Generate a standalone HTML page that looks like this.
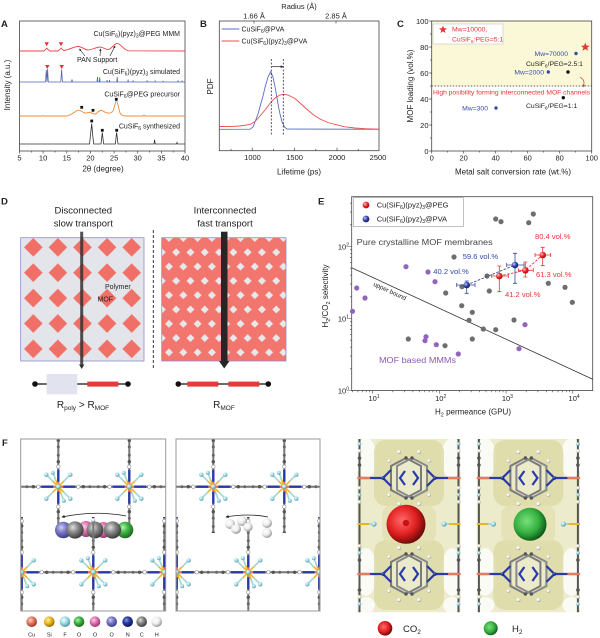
<!DOCTYPE html>
<html><head><meta charset="utf-8">
<style>
html,body{margin:0;padding:0;background:#fff;width:600px;height:638px;overflow:hidden}
svg{display:block}
text{font-family:"Liberation Sans",Arial,sans-serif;fill:#222}
</style></head><body>
<svg xmlns="http://www.w3.org/2000/svg" width="600" height="638" viewBox="0 0 600 638">
<defs>
<marker id="ah" viewBox="0 0 6 6" refX="5" refY="3" markerWidth="4" markerHeight="4" orient="auto"><path d="M0,0 L6,3 L0,6 z" fill="#222"/></marker>
<marker id="ahr" viewBox="0 0 6 6" refX="5" refY="3" markerWidth="4" markerHeight="4" orient="auto"><path d="M0,0 L6,3 L0,6 z" fill="#e53535"/></marker>
<radialGradient id="gCu" cx="0.38" cy="0.35" r="0.65"><stop offset="0" stop-color="#ffd0c0"/><stop offset="0.45" stop-color="#e8806a"/><stop offset="1" stop-color="#9a3a28"/></radialGradient>
<radialGradient id="gSi" cx="0.38" cy="0.35" r="0.65"><stop offset="0" stop-color="#fff0a0"/><stop offset="0.45" stop-color="#f0be28"/><stop offset="1" stop-color="#9a7010"/></radialGradient>
<radialGradient id="gF" cx="0.38" cy="0.35" r="0.65"><stop offset="0" stop-color="#f4ffff"/><stop offset="0.45" stop-color="#a6e0ea"/><stop offset="1" stop-color="#5a9aa8"/></radialGradient>
<radialGradient id="gOg" cx="0.38" cy="0.35" r="0.65"><stop offset="0" stop-color="#b0f5b0"/><stop offset="0.45" stop-color="#44b848"/><stop offset="1" stop-color="#1c6a20"/></radialGradient>
<radialGradient id="gOp" cx="0.38" cy="0.35" r="0.65"><stop offset="0" stop-color="#ffd0ea"/><stop offset="0.45" stop-color="#e476b6"/><stop offset="1" stop-color="#963c70"/></radialGradient>
<radialGradient id="gOl" cx="0.38" cy="0.35" r="0.65"><stop offset="0" stop-color="#d0d0f6"/><stop offset="0.45" stop-color="#7c7cc8"/><stop offset="1" stop-color="#3c3c88"/></radialGradient>
<radialGradient id="gN" cx="0.38" cy="0.35" r="0.65"><stop offset="0" stop-color="#8a9ae6"/><stop offset="0.45" stop-color="#2a3aa6"/><stop offset="1" stop-color="#101858"/></radialGradient>
<radialGradient id="gC" cx="0.38" cy="0.35" r="0.65"><stop offset="0" stop-color="#e0e0e0"/><stop offset="0.45" stop-color="#8a8a8a"/><stop offset="1" stop-color="#3e3e3e"/></radialGradient>
<radialGradient id="gH" cx="0.38" cy="0.35" r="0.65"><stop offset="0" stop-color="#ffffff"/><stop offset="0.55" stop-color="#eeeeee"/><stop offset="1" stop-color="#9a9a9a"/></radialGradient>
<radialGradient id="gRed" cx="0.4" cy="0.4" r="0.62"><stop offset="0" stop-color="#ff6a6a"/><stop offset="0.6" stop-color="#e01e1e"/><stop offset="1" stop-color="#6a0a0a"/></radialGradient>
<radialGradient id="gGreen" cx="0.4" cy="0.4" r="0.62"><stop offset="0" stop-color="#7ae07a"/><stop offset="0.6" stop-color="#34b040"/><stop offset="1" stop-color="#0e5a18"/></radialGradient>
<radialGradient id="gRE" cx="0.35" cy="0.35" r="0.7"><stop offset="0" stop-color="#ffc0c0"/><stop offset="0.5" stop-color="#ee2a2a"/><stop offset="1" stop-color="#a00"/></radialGradient>
<radialGradient id="gBE" cx="0.35" cy="0.35" r="0.7"><stop offset="0" stop-color="#c0c8ff"/><stop offset="0.5" stop-color="#3448a8"/><stop offset="1" stop-color="#101c60"/></radialGradient>

<pattern id="dl" patternUnits="userSpaceOnUse" x="21" y="234.6" width="24.6" height="25.4">
<polygon points="12.3,3.4 21.6,12.7 12.3,22 3,12.7" fill="#f07068"/>
</pattern>
<pattern id="dr" patternUnits="userSpaceOnUse" x="169" y="238" width="14.3" height="28.6">
<rect width="14.3" height="28.6" fill="#f2766e"/>
<g fill="#e6e8ec">
<polygon points="0,-4 4,0 0,4 -4,0"/>
<polygon points="14.3,-4 18.3,0 14.3,4 10.3,0"/>
<polygon points="0,24.6 4,28.6 0,32.6 -4,28.6"/>
<polygon points="14.3,24.6 18.3,28.6 14.3,32.6 10.3,28.6"/>
<polygon points="7.15,10.3 11.15,14.3 7.15,18.3 3.15,14.3"/>
</g>
</pattern>

<clipPath id="cTop"><rect x="-60" y="430" width="320" height="103"/></clipPath>
<clipPath id="cBot"><rect x="-60" y="517" width="320" height="110"/></clipPath>
<clipPath id="cL"><rect x="20.7" y="439" width="145" height="172"/></clipPath>
<clipPath id="cM"><rect x="176" y="439" width="144" height="172"/></clipPath>
<clipPath id="cI1"><rect x="357.3" y="439" width="103.4" height="173.3"/></clipPath>
<clipPath id="cI2"><rect x="476.7" y="439" width="103.4" height="173.3"/></clipPath>

<g id="hh">
<line x2="36" stroke="#787878" stroke-width="2"/>
<line x2="5" stroke="#e8785e" stroke-width="2.4"/>
<line x1="5" x2="17" stroke="#2a3aa8" stroke-width="2.4"/>
<circle cx="20" r="1.8" fill="#fff" stroke="#777" stroke-width="0.5"/>
<circle cx="25" r="1.7" fill="#555"/>
<circle cx="31.5" r="1.5" fill="#666"/>
</g>
<g id="fc">
<use href="#hh"/>
<use href="#hh" transform="translate(71.3,0) scale(-1,1)"/>
</g>
<g id="cu">
<g stroke-width="1.5" stroke-linecap="round">
<line x2="-11" y2="-11" stroke="#e8b428"/><line x2="11" y2="-11" stroke="#e8b428"/>
<line x2="-11" y2="11" stroke="#e8b428"/><line x2="11" y2="11" stroke="#e8b428"/>
<line x2="-5" y2="-13" stroke="#e8b428"/><line x2="5" y2="13" stroke="#e8b428"/>
<line x1="-6" y1="-6" x2="-11" y2="-11" stroke="#9edbe6"/><line x1="6" y1="-6" x2="11" y2="-11" stroke="#9edbe6"/>
<line x1="-6" y1="6" x2="-11" y2="11" stroke="#9edbe6"/><line x1="6" y1="6" x2="11" y2="11" stroke="#9edbe6"/>
<line x1="-3" y1="-7" x2="-5" y2="-13" stroke="#9edbe6"/><line x1="3" y1="7" x2="5" y2="13" stroke="#9edbe6"/>
</g>
<circle cx="-12" cy="-12" r="2.2" fill="url(#gF)"/><circle cx="12" cy="-12" r="2.2" fill="url(#gF)"/>
<circle cx="-12" cy="12" r="2.2" fill="url(#gF)"/><circle cx="12" cy="12" r="2.2" fill="url(#gF)"/>
<circle cx="-5.5" cy="-14" r="2" fill="url(#gF)"/><circle cx="5.5" cy="14" r="2" fill="url(#gF)"/>
<circle r="2.4" fill="url(#gF)"/>
</g>

<g id="lat">
<g clip-path="url(#cTop)">
<use href="#fc" transform="translate(58.3,415.4) rotate(90)"/>
<use href="#fc" transform="translate(58.3,486.7) rotate(90)"/>
<use href="#fc" transform="translate(129.3,415.4) rotate(90)"/>
<use href="#fc" transform="translate(129.3,486.7) rotate(90)"/>
</g>
<g clip-path="url(#cBot)">
<use href="#fc" transform="translate(21.7,501) rotate(90)"/>
<use href="#fc" transform="translate(21.7,572.3) rotate(90)"/>
<use href="#fc" transform="translate(93.3,501) rotate(90)"/>
<use href="#fc" transform="translate(93.3,572.3) rotate(90)"/>
<use href="#fc" transform="translate(164.3,501) rotate(90)"/>
<use href="#fc" transform="translate(164.3,572.3) rotate(90)"/>
</g>
<use href="#fc" transform="translate(-13,486.7)"/>
<use href="#fc" transform="translate(58.3,486.7)"/>
<use href="#fc" transform="translate(129.3,486.7)"/>
<use href="#fc" transform="translate(-49.6,572.3)"/>
<use href="#fc" transform="translate(21.7,572.3)"/>
<use href="#fc" transform="translate(93.3,572.3)"/>
<use href="#fc" transform="translate(164.3,572.3)"/>
<use href="#cu" transform="translate(58.3,486.7)"/>
<use href="#cu" transform="translate(129.3,486.7)"/>
<use href="#cu" transform="translate(21.7,572.3)"/>
<use href="#cu" transform="translate(93.3,572.3)"/>
<use href="#cu" transform="translate(164.3,572.3)"/>
</g>

<g id="pyz">
<polygon points="-3,-20 12,-12 12,12 -3,20 -18,12 -18,-12" fill="none" stroke="#7a7a7a" stroke-width="2"/>
<polygon points="3,-20 18,-12 18,12 3,20 -12,12 -12,-12" fill="none" stroke="#8a8a8a" stroke-width="2"/>
<circle cx="-3" cy="-20" r="1.7" fill="#555"/><circle cx="3" cy="-20" r="1.7" fill="#555"/>
<circle cx="-3" cy="20" r="1.7" fill="#555"/><circle cx="3" cy="20" r="1.7" fill="#555"/>
<circle cx="-10" cy="-26" r="2" fill="url(#gH)"/><circle cx="10" cy="-26" r="2" fill="url(#gH)"/>
<circle cx="-10" cy="26" r="2" fill="url(#gH)"/><circle cx="10" cy="26" r="2" fill="url(#gH)"/>
<circle cx="-20" cy="-17" r="1.8" fill="url(#gH)"/><circle cx="20" cy="-17" r="1.8" fill="url(#gH)"/>
<circle cx="-20" cy="17" r="1.8" fill="url(#gH)"/><circle cx="20" cy="17" r="1.8" fill="url(#gH)"/>
<polyline points="-4,-7 -9,0 -4,7" fill="none" stroke="#2a3aa8" stroke-width="2.2"/>
<polyline points="4,-7 9,0 4,7" fill="none" stroke="#2a3aa8" stroke-width="2.2"/>
<polyline points="-18,-8 -26,0 -18,8" fill="none" stroke="#2a3aa8" stroke-width="2.2"/>
<polyline points="18,-8 26,0 18,8" fill="none" stroke="#2a3aa8" stroke-width="2.2"/>
<line x1="-49" x2="-26" stroke="#2a3aa8" stroke-width="2.2"/>
<line x1="26" x2="49" stroke="#2a3aa8" stroke-width="2.2"/>
<line x1="-52" x2="-39" stroke="#e8785e" stroke-width="2.2"/>
<line x1="39" x2="52" stroke="#e8785e" stroke-width="2.2"/>
<circle cx="-26" r="1.8" fill="url(#gN)"/><circle cx="26" r="1.8" fill="url(#gN)"/>
</g>
<g id="edge">
<line x1="0" y1="439" x2="0" y2="613" stroke="#555" stroke-width="2"/>
<circle cy="444" r="1.8" fill="url(#gF)"/><circle cy="451" r="1.8" fill="url(#gH)"/><circle cy="458" r="1.8" fill="#555"/>
<circle cy="465" r="1.8" fill="#555"/><circle cy="488" r="1.8" fill="url(#gH)"/><circle cy="495" r="1.8" fill="url(#gF)"/>
<circle cy="502" r="1.8" fill="url(#gH)"/><circle cy="546" r="1.8" fill="url(#gH)"/><circle cy="553" r="1.8" fill="url(#gF)"/>
<circle cy="560" r="1.8" fill="#555"/><circle cy="590" r="1.8" fill="#555"/><circle cy="597" r="1.8" fill="url(#gH)"/>
<circle cy="604" r="1.8" fill="url(#gF)"/>
</g>
<g id="iso">
<rect x="357.3" y="439" width="103.4" height="173.3" fill="#ecebcb"/>
<ellipse cx="366" cy="458" rx="11" ry="20" fill="#fbfbf6"/>
<ellipse cx="452" cy="458" rx="11" ry="20" fill="#fbfbf6"/>
<ellipse cx="366" cy="572" rx="11" ry="24" fill="#fbfbf6"/>
<ellipse cx="452" cy="572" rx="11" ry="24" fill="#fbfbf6"/>
<ellipse cx="366" cy="605" rx="9" ry="8" fill="#fbfbf6"/>
<ellipse cx="452" cy="605" rx="9" ry="8" fill="#fbfbf6"/>
<rect x="374" y="440" width="70" height="66" rx="12" fill="#dcdaa6" opacity="0.85"/>
<rect x="374" y="540" width="70" height="70" rx="12" fill="#dcdaa6" opacity="0.85"/>
<rect x="382" y="505" width="54" height="38" rx="10" fill="#e2e0b0" opacity="0.8"/>
<ellipse cx="409" cy="478" rx="18" ry="21" fill="#ebeacb"/>
<ellipse cx="409" cy="574" rx="18" ry="21" fill="#ebeacb"/>
<use href="#edge" transform="translate(359.5,0)"/>
<use href="#edge" transform="translate(458.5,0)"/>
<use href="#pyz" transform="translate(409,478)"/>
<use href="#pyz" transform="translate(409,574)"/>
<line x1="357.3" y1="524" x2="369" y2="524" stroke="#e8b428" stroke-width="2"/>
<line x1="369" y1="524" x2="373" y2="524" stroke="#9edbe6" stroke-width="2"/>
<circle cx="374" cy="524" r="2.6" fill="url(#gF)"/>
<line x1="449" y1="524" x2="460.7" y2="524" stroke="#e8b428" stroke-width="2"/>
<line x1="445" y1="524" x2="449" y2="524" stroke="#9edbe6" stroke-width="2"/>
<circle cx="444" cy="524" r="2.6" fill="url(#gF)"/>
</g>
</defs>

<!-- ============ PANEL A ============ -->
<text x="1" y="27" font-size="9.5" font-weight="bold">A</text>
<rect x="19.5" y="21" width="165.5" height="130" fill="none" stroke="#444" stroke-width="0.8"/>
<path d="M19.5,151v2.5M43.1,151v2.5M66.8,151v2.5M90.4,151v2.5M114.1,151v2.5M137.7,151v2.5M161.4,151v2.5M185,151v2.5M31.3,151v1.5M55,151v1.5M78.6,151v1.5M102.3,151v1.5M125.9,151v1.5M149.6,151v1.5M173.2,151v1.5" stroke="#444" stroke-width="0.7"/>
<g font-size="7.5" text-anchor="middle">
<text x="19.5" y="160.5">5</text><text x="43.1" y="160.5">10</text><text x="66.8" y="160.5">15</text><text x="90.4" y="160.5">20</text>
<text x="114.1" y="160.5">25</text><text x="137.7" y="160.5">30</text><text x="161.4" y="160.5">35</text><text x="185" y="160.5">40</text>
</g>
<text x="103" y="171.5" font-size="8" text-anchor="middle">2θ (degree)</text>
<text x="10" y="85" font-size="8" text-anchor="middle" transform="rotate(-90 10 85)">Intensity (a.u.)</text>

<path d="M19.5,51 L44,51 L45.5,49.5 L46.7,48.2 L48,49.5 L50,51 L58,51 L60,49.3 L61.2,48 L62.5,49.5 L64,50.5 C70,49.5 74,46.5 78,46.5 C82,46.5 85,50 88,50 C92,50 96,47 100,47 C103,47 105,49.5 108,49.5 C112,49 114,43.5 117,43.3 C120,43.3 123,49 128,50.8 L185,51" fill="none" stroke="#e8474a" stroke-width="0.9"/>
<path d="M19.5,82 L45.5,82 L46.3,70 L47,82 L47.6,69 L48.3,82 L60.8,82 L61.6,69.5 L62.4,82 L71.5,82 L72,79.5 L72.5,82 L97,82 L97.5,77 L98,82 L99.3,82 L99.7,77.3 L100.1,82 L106.8,82 L107.1,80 L107.4,82 L109.3,82 L109.6,80 L109.9,82 L116.8,82 L117.2,77 L117.6,82 L127.8,82 L128.1,79.5 L128.4,82 L132.8,82 L133.1,80.5 L133.4,82 L146.8,82 L147.1,80.5 L147.4,82 L154.8,82 L155.1,81 L155.4,82 L162.8,82 L163.1,80.8 L163.4,82 L177.8,82 L178.1,80.5 L178.4,82 L181.8,82 L182.1,81 L182.4,82 L185,82" fill="none" stroke="#5466b8" stroke-width="0.8"/>
<path d="M19.5,116 L42,116 L43,115.5 L44,116 L66,116 C70,116 73,113 77,110.5 C80,109 82,112.5 85,113 C87,113.5 89,111.5 91,112.5 C93,114 95,115 97,113 C99,110.5 101,110 103,111 C106,113 110,114.5 113,111 C114.5,108 115.5,100.5 116.4,100.3 C117.3,100.5 118.5,108 120,113 C121,115 123,116 126,116 L143,116 L144,115 L145,116 L185,116" fill="none" stroke="#f08a3c" stroke-width="0.9"/>
<path d="M19.5,144 L89.5,144 L90.5,135 L91.7,123.5 L92.7,135 L93.7,144 L101,144 L101.8,137 L102.3,132.5 L102.8,137 L103.6,144 L115.4,144 L116.1,137 L116.6,132.5 L117.2,137 L118,144 L154,144 L154.6,139.7 L155.2,144 L176.5,144 L177,142.5 L177.5,144 L185,144" fill="none" stroke="#333" stroke-width="0.8"/>
<g fill="#e83030">
<polygon points="44.5,42.3 48.9,42.3 46.7,46.3"/><polygon points="58.8,42.3 63.2,42.3 61,46.3"/>
<polygon points="45.1,65 49.5,65 47.3,69"/><polygon points="59.5,65 63.9,65 61.7,69"/>
</g>
<g fill="#111">
<rect x="80.3" y="105.9" width="2.8" height="2.8"/><rect x="91.6" y="108.9" width="2.8" height="2.8"/><rect x="114.9" y="97.9" width="2.8" height="2.8"/>
<rect x="90.3" y="119.6" width="2.8" height="2.8"/><rect x="100.9" y="128.9" width="2.8" height="2.8"/><rect x="115.3" y="128.9" width="2.8" height="2.8"/>
</g>
<text x="180" y="36" text-anchor="end" font-size="7">Cu(SiF<tspan font-size="5" dy="1.5">6</tspan><tspan dy="-1.5">)(pyz)</tspan><tspan font-size="5" dy="1.5">3</tspan><tspan dy="-1.5">@PEG MMM</tspan></text>
<text x="77" y="62" font-size="7">PAN Support</text>
<g stroke="#222" stroke-width="0.6" fill="none" marker-end="url(#ah)">
<line x1="85" y1="56" x2="79.5" y2="49"/><line x1="100" y1="56" x2="100.5" y2="49"/><line x1="110" y1="56" x2="115" y2="46"/>
</g>
<text x="180" y="74" text-anchor="end" font-size="7">Cu(SiF<tspan font-size="5" dy="1.5">6</tspan><tspan dy="-1.5">)(pyz)</tspan><tspan font-size="5" dy="1.5">3</tspan><tspan dy="-1.5"> simulated</tspan></text>
<text x="180" y="96.5" text-anchor="end" font-size="7">CuSiF<tspan font-size="5" dy="1.5">6</tspan><tspan dy="-1.5">@PEG precursor</tspan></text>
<text x="180" y="128.5" text-anchor="end" font-size="7">CuSiF<tspan font-size="5" dy="1.5">6</tspan><tspan dy="-1.5"> synthesized</tspan></text>

<!-- ============ PANEL B ============ -->
<text x="200" y="27" font-size="9.5" font-weight="bold">B</text>
<text x="299" y="9" font-size="7.5" text-anchor="middle">Radius (Å)</text>
<text x="254" y="18.5" font-size="7.5" text-anchor="middle">1.66 Å</text>
<text x="336" y="18.5" font-size="7.5" text-anchor="middle">2.85 Å</text>
<rect x="219.3" y="21" width="159.7" height="129.7" fill="none" stroke="#444" stroke-width="0.8"/>
<path d="M252.2,150.7v-3M294.6,150.7v-3M337,150.7v-3M231,150.7v-1.8M273.4,150.7v-1.8M315.8,150.7v-1.8M358.2,150.7v-1.8M254,21v2.5M336,21v2.5" stroke="#444" stroke-width="0.7"/>
<g font-size="7.5" text-anchor="middle">
<text x="252.5" y="160">1000</text><text x="294.6" y="160">1500</text><text x="337" y="160">2000</text><text x="378" y="160">2500</text>
</g>
<text x="299" y="174.5" font-size="8" text-anchor="middle">Lifetime (ps)</text>
<text x="213" y="86.5" font-size="8" text-anchor="middle" transform="rotate(-90 213 86.5)">PDF</text>
<line x1="221.7" y1="29" x2="239.3" y2="29" stroke="#5a6cc0" stroke-width="0.9"/>
<line x1="221.7" y1="41" x2="239.3" y2="41" stroke="#ee4c4c" stroke-width="0.9"/>
<text x="241.5" y="31.5" font-size="7">CuSiF<tspan font-size="5" dy="1.5">6</tspan><tspan dy="-1.5">@PVA</tspan></text>
<text x="241.5" y="43.5" font-size="7">Cu(SiF<tspan font-size="5" dy="1.5">6</tspan><tspan dy="-1.5">)(pyz)</tspan><tspan font-size="5" dy="1.5">3</tspan><tspan dy="-1.5">@PVA</tspan></text>
<polyline points="219.3,129.3 250,129.2 253,127 255,122 258,114 260,106.7 263,96 265,87.5 268,77 270.7,71.7 273,77 275,86.7 277,98 278.5,106.7 280,114 282,122 284.5,127 287,129 379,129.3" fill="none" stroke="#5a6cc0" stroke-width="0.9"/>
<polyline points="219.3,126.5 230,126.6 240,126 250,124.5 255,121.5 260,116 265,110 270,103.5 275,98 280,95 283.5,94.3 288,95 295,98.5 300,103 306,108.5 313,114.5 320,119 328,122.5 335,124.5 345,126.8 355,128 365,128.7 379,129.2" fill="none" stroke="#ee4c4c" stroke-width="0.9"/>
<g stroke="#333" stroke-width="0.8" stroke-dasharray="2,1.5">
<line x1="271.3" y1="59" x2="271.3" y2="136"/><line x1="283.3" y1="59" x2="283.3" y2="136"/>
</g>
<line x1="272" y1="66.7" x2="283" y2="66.7" stroke="#222" stroke-width="0.7" marker-end="url(#ah)"/>

<!-- ============ PANEL C ============ -->
<text x="397" y="27" font-size="9.5" font-weight="bold">C</text>
<rect x="431.7" y="21" width="160" height="65" fill="#fbf8d8"/>
<rect x="431.7" y="21" width="160" height="130" fill="none" stroke="#444" stroke-width="0.8"/>
<line x1="431.7" y1="86" x2="591.7" y2="86" stroke="#333" stroke-width="0.7" stroke-dasharray="1.5,1.5"/>
<path d="M431.7,21h-2.5M431.7,47h-2.5M431.7,73h-2.5M431.7,99h-2.5M431.7,125h-2.5M431.7,151h-2.5M431.7,34h-1.5M431.7,60h-1.5M431.7,86h-1.5M431.7,112h-1.5M431.7,138h-1.5M431.7,151v2.5M463.7,151v2.5M495.7,151v2.5M527.7,151v2.5M559.7,151v2.5M591.7,151v2.5M447.7,151v1.5M479.7,151v1.5M511.7,151v1.5M543.7,151v1.5M575.7,151v1.5" stroke="#444" stroke-width="0.7"/>
<g font-size="7.5" text-anchor="end">
<text x="428.5" y="23.8">100</text><text x="428.5" y="49.8">80</text><text x="428.5" y="75.8">60</text><text x="428.5" y="101.8">40</text><text x="428.5" y="127.8">20</text><text x="428.5" y="153.8">0</text>
</g>
<g font-size="7.5" text-anchor="middle">
<text x="431.7" y="160.5">0</text><text x="463.7" y="160.5">20</text><text x="495.7" y="160.5">40</text><text x="527.7" y="160.5">60</text><text x="559.7" y="160.5">80</text><text x="591.7" y="160.5">100</text>
</g>
<text x="513" y="174.5" font-size="8" text-anchor="middle">Metal salt conversion rate (wt.%)</text>
<text x="413" y="86" font-size="8" text-anchor="middle" transform="rotate(-90 413 86)">MOF loading (vol.%)</text>
<text x="433" y="94.3" font-size="6.4" textLength="157" lengthAdjust="spacingAndGlyphs" style="fill:#e53535">High posibility forming interconnected MOF channels</text>
<rect x="433" y="24" width="70" height="20" fill="#fff" stroke="#bbb" stroke-width="0.5"/>
<polygon points="443,25.5 444.1,28.3 447,28.4 444.7,30.2 445.5,33 443,31.4 440.5,33 441.3,30.2 439,28.4 441.9,28.3" fill="#e53535"/>
<text x="452" y="31.5" font-size="6.8" style="fill:#e53535">Mw=10000,</text>
<text x="452" y="41.5" font-size="6.8" style="fill:#e53535">CuSiF<tspan font-size="4.8" dy="1.5">6</tspan><tspan dy="-1.5">:PEG=5:1</tspan></text>
<polygon points="585.3,42.5 586.5,45.6 589.7,45.7 587.2,47.7 588.1,50.8 585.3,49 582.5,50.8 583.4,47.7 580.9,45.7 584.1,45.6" fill="#e53535"/>
<circle cx="576" cy="53.5" r="1.7" fill="#3a4ea0"/>
<text x="568" y="55.8" font-size="6.8" text-anchor="end" style="fill:#3a4ea0">Mw=70000</text>
<text x="526" y="65.8" font-size="6.8">CuSiF<tspan font-size="4.8" dy="1.5">6</tspan><tspan dy="-1.5">/PEG=2.5:1</tspan></text>
<circle cx="568" cy="72" r="1.7" fill="#111"/>
<circle cx="548.3" cy="72" r="1.7" fill="#3a4ea0"/>
<text x="544" y="74.5" font-size="6.8" text-anchor="end" style="fill:#3a4ea0">Mw=2000</text>
<path d="M580,77.3 Q586,80 583,87" fill="none" stroke="#e53535" stroke-width="0.7" marker-end="url(#ahr)"/>
<circle cx="563.3" cy="97.7" r="1.7" fill="#111"/>
<text x="526" y="107.8" font-size="6.8">CuSiF<tspan font-size="4.8" dy="1.5">6</tspan><tspan dy="-1.5">/PEG=1:1</tspan></text>
<circle cx="496" cy="108" r="1.7" fill="#3a4ea0"/>
<text x="488" y="110.5" font-size="6.8" text-anchor="end" style="fill:#3a4ea0">Mw=300</text>

<!-- ============ PANEL D ============ -->
<text x="1" y="204.5" font-size="9.5" font-weight="bold">D</text>
<g font-size="9.5" text-anchor="middle">
<text x="83.3" y="213.5">Disconnected</text><text x="83.3" y="226.5">slow transport</text>
<text x="225" y="213.5">Interconnected</text><text x="225" y="226.5">fast transport</text>
</g>
<rect x="20.7" y="237.7" width="123.3" height="123.3" fill="#e3e5ea" stroke="#8a8fc4" stroke-width="0.8"/>
<rect x="20.7" y="237.7" width="123.3" height="123.3" fill="url(#dl)"/>
<rect x="161.7" y="237.7" width="124.3" height="123.3" fill="url(#dr)" stroke="#8a8fc4" stroke-width="0.8"/>
<line x1="153.3" y1="230" x2="153.3" y2="368" stroke="#222" stroke-width="0.9" stroke-dasharray="3,2"/>
<rect x="80.2" y="231.7" width="3" height="133" fill="#333" opacity="0.85"/>
<polygon points="79,364.5 84.4,364.5 81.7,369" fill="#333"/>
<text x="105" y="289" font-size="7">Polymer</text>
<text x="97.5" y="301.5" font-size="7">MOF</text>
<rect x="221" y="231.7" width="6.5" height="130" fill="#262626"/>
<polygon points="219,361 229.5,361 224.2,368.5" fill="#262626"/>
<line x1="35" y1="384" x2="128" y2="384" stroke="#111" stroke-width="1.2"/>
<circle cx="35" cy="384" r="2.8" fill="#111"/><circle cx="128" cy="384" r="2.8" fill="#111"/>
<rect x="46.7" y="374" width="30.6" height="20.3" fill="#e3e3ef"/>
<rect x="87.3" y="381.6" width="31" height="5" fill="#e83a3a"/>
<line x1="178.3" y1="384" x2="268.3" y2="384" stroke="#111" stroke-width="1.2"/>
<circle cx="178.3" cy="384" r="2.8" fill="#111"/><circle cx="268.3" cy="384" r="2.8" fill="#111"/>
<rect x="187.3" y="381.6" width="31" height="5" fill="#e83a3a"/>
<rect x="228.3" y="381.6" width="31" height="5" fill="#e83a3a"/>
<text x="83" y="408" font-size="10" text-anchor="middle">R<tspan font-size="6.5" dy="2">poly</tspan><tspan dy="-2"> &gt; R</tspan><tspan font-size="6.5" dy="2">MOF</tspan></text>
<text x="224" y="408" font-size="10" text-anchor="middle">R<tspan font-size="6.5" dy="2">MOF</tspan></text>

<!-- ============ PANEL E ============ -->
<text x="318" y="204.5" font-size="9.5" font-weight="bold">E</text>
<rect x="351.7" y="196.7" width="241" height="193.8" fill="none" stroke="#444" stroke-width="0.8"/>
<path d="M351.7,390.5h-3M351.7,318.5h-3M351.7,246.5h-3M351.7,368.8h-1.7M351.7,356.1h-1.7M351.7,347.2h-1.7M351.7,340.2h-1.7M351.7,334.5h-1.7M351.7,329.7h-1.7M351.7,325.5h-1.7M351.7,321.8h-1.7M351.7,296.8h-1.7M351.7,284.1h-1.7M351.7,275.2h-1.7M351.7,268.2h-1.7M351.7,262.5h-1.7M351.7,257.7h-1.7M351.7,253.5h-1.7M351.7,249.8h-1.7M351.7,224.8h-1.7M351.7,212.1h-1.7M351.7,203.2h-1.7" stroke="#444" stroke-width="0.6"/>
<path d="M372.7,390.5v3M439.4,390.5v3M506.1,390.5v3M572.8,390.5v3M352.6,390.5v1.7M357.9,390.5v1.7M362.4,390.5v1.7M366.2,390.5v1.7M369.6,390.5v1.7M392.8,390.5v1.7M404.5,390.5v1.7M412.9,390.5v1.7M419.3,390.5v1.7M424.6,390.5v1.7M429.1,390.5v1.7M432.9,390.5v1.7M436.3,390.5v1.7M459.5,390.5v1.7M471.2,390.5v1.7M479.6,390.5v1.7M486,390.5v1.7M491.3,390.5v1.7M495.8,390.5v1.7M499.6,390.5v1.7M503,390.5v1.7M526.2,390.5v1.7M537.9,390.5v1.7M546.3,390.5v1.7M552.7,390.5v1.7M558,390.5v1.7M562.5,390.5v1.7M566.3,390.5v1.7M569.7,390.5v1.7" stroke="#444" stroke-width="0.6"/>
<g font-size="7.5" text-anchor="end">
<text x="349" y="249.5">10<tspan font-size="5" dy="-3">2</tspan></text>
<text x="349" y="321.5">10<tspan font-size="5" dy="-3">1</tspan></text>
<text x="349" y="393.5">10<tspan font-size="5" dy="-3">0</tspan></text>
</g>
<g font-size="7.5" text-anchor="middle">
<text x="374" y="401">10<tspan font-size="5" dy="-3">1</tspan></text>
<text x="440.7" y="401">10<tspan font-size="5" dy="-3">2</tspan></text>
<text x="507.4" y="401">10<tspan font-size="5" dy="-3">3</tspan></text>
<text x="574.1" y="401">10<tspan font-size="5" dy="-3">4</tspan></text>
</g>
<text x="473" y="414.5" font-size="8" text-anchor="middle">H<tspan font-size="5.5" dy="1.8">2</tspan><tspan dy="-1.8"> permeance (GPU)</tspan></text>
<text x="328" y="296" font-size="8" text-anchor="middle" transform="rotate(-90 328 296)">H<tspan font-size="5.5" dy="1.8">2</tspan><tspan dy="-1.8">/CO</tspan><tspan font-size="5.5" dy="1.8">2</tspan><tspan dy="-1.8"> selectivity</tspan></text>
<line x1="351.7" y1="267.7" x2="592.7" y2="379.3" stroke="#333" stroke-width="0.8"/>
<text x="389" y="293" font-size="6.3" text-anchor="middle" transform="rotate(24.8 389 293)">upper bound</text>
<text x="356.7" y="245" font-size="8" textLength="136" lengthAdjust="spacingAndGlyphs" style="fill:#444">Pure crystalline MOF membranes</text>
<text x="379" y="363" font-size="8" textLength="77" lengthAdjust="spacingAndGlyphs" style="fill:#8a5ab8">MOF based MMMs</text>
<g fill="#6e6e6e">
<circle cx="495.7" cy="219" r="2.6"/><circle cx="501" cy="221.7" r="2.6"/><circle cx="528.7" cy="222.7" r="2.6"/><circle cx="533.3" cy="214" r="2.6"/>
<circle cx="454" cy="257" r="2.6"/><circle cx="445.7" cy="293" r="2.6"/><circle cx="487" cy="276" r="2.6"/><circle cx="489.3" cy="291" r="2.6"/>
<circle cx="461.7" cy="305.7" r="2.6"/><circle cx="548.3" cy="283.3" r="2.6"/><circle cx="565" cy="287.3" r="2.6"/><circle cx="572.3" cy="302.3" r="2.6"/>
<circle cx="472.3" cy="312.3" r="2.6"/><circle cx="469" cy="320.3" r="2.6"/><circle cx="514" cy="320" r="2.6"/><circle cx="483.3" cy="329" r="2.6"/>
<circle cx="495.7" cy="329.7" r="2.6"/><circle cx="408.3" cy="339" r="2.6"/><circle cx="472.3" cy="339" r="2.6"/><circle cx="445" cy="345.7" r="2.6"/>
<circle cx="462" cy="286.7" r="2.6"/>
</g>
<g fill="#9165bd">
<circle cx="406" cy="266.7" r="2.6"/><circle cx="428" cy="272" r="2.6"/><circle cx="435" cy="281.7" r="2.6"/><circle cx="356.7" cy="288" r="2.6"/>
<circle cx="365" cy="298" r="2.6"/><circle cx="352.5" cy="311.3" r="2.6"/><circle cx="426" cy="336.7" r="2.6"/><circle cx="425" cy="340.7" r="2.6"/>
<circle cx="436.3" cy="344.7" r="2.6"/><circle cx="458.3" cy="354" r="2.6"/><circle cx="525" cy="324.7" r="2.6"/><circle cx="519" cy="348.7" r="2.6"/>
</g>
<polyline points="466.7,285 515,265" fill="none" stroke="#3448a8" stroke-width="0.9" stroke-dasharray="2.5,1.5"/>
<polyline points="499.3,276 525.3,270.3 542.7,255" fill="none" stroke="#e53535" stroke-width="0.9" stroke-dasharray="2.5,1.5"/>
<g stroke="#3448a8" stroke-width="0.8">
<path d="M456.7,285H475M466.7,281V293.3M456.7,283v4M475,283v4M464.7,281h4M464.7,293.3h4"/>
<path d="M506.7,265H524M515,253.3V283.3M506.7,263v4M524,263v4M513,253.3h4M513,283.3h4"/>
</g>
<g stroke="#e53535" stroke-width="0.8">
<path d="M491.7,276H508.3M499.3,266V291.7M491.7,274v4M508.3,274v4M497.3,266h4M497.3,291.7h4"/>
<path d="M518.3,270.3H533.3M525.3,262V277M518.3,268.3v4M533.3,268.3v4M523.3,262h4M523.3,277h4"/>
<path d="M535,255H550.7M542.7,247.3V265.7M535,253v4M550.7,253v4M540.7,247.3h4M540.7,265.7h4"/>
</g>
<circle cx="466.7" cy="285" r="3.3" fill="url(#gBE)"/>
<circle cx="515" cy="265" r="3.3" fill="url(#gBE)"/>
<circle cx="499.3" cy="276" r="3.3" fill="url(#gRE)"/>
<circle cx="525.3" cy="270.3" r="3.3" fill="url(#gRE)"/>
<circle cx="542.7" cy="255" r="3.3" fill="url(#gRE)"/>
<g font-size="7.6">
<text x="535" y="239" style="fill:#e53535">80.4 vol.%</text>
<text x="536" y="277" style="fill:#e53535">61.3 vol.%</text>
<text x="505" y="297" style="fill:#e53535">41.2 vol.%</text>
<text x="462.7" y="259" style="fill:#3448a8">59.6 vol.%</text>
<text x="433.3" y="274" style="fill:#3448a8">40.2 vol.%</text>
</g>
<rect x="353.3" y="197.7" width="110" height="29" fill="#fff" stroke="#999" stroke-width="0.6"/>
<circle cx="366" cy="205" r="3.4" fill="url(#gRE)"/>
<circle cx="366" cy="219" r="3.4" fill="url(#gBE)"/>
<text x="376.7" y="207.7" font-size="7.5">Cu(SiF<tspan font-size="5.2" dy="1.5">6</tspan><tspan dy="-1.5">)(pyz)</tspan><tspan font-size="5.2" dy="1.5">3</tspan><tspan dy="-1.5">@PEG</tspan></text>
<text x="376.7" y="221.7" font-size="7.5">Cu(SiF<tspan font-size="5.2" dy="1.5">6</tspan><tspan dy="-1.5">)(pyz)</tspan><tspan font-size="5.2" dy="1.5">3</tspan><tspan dy="-1.5">@PVA</tspan></text>

<!-- ============ PANEL F ============ -->
<text x="2" y="446" font-size="9.5" font-weight="bold">F</text>
<g clip-path="url(#cL)"><use href="#lat"/></g>
<g clip-path="url(#cM)"><use href="#lat" x="155"/></g>
<rect x="20.7" y="439" width="145" height="172" fill="none" stroke="#999" stroke-width="1"/>
<rect x="176" y="439" width="144" height="172" fill="none" stroke="#999" stroke-width="1"/>
<!-- CO2 blob -->
<circle cx="63.3" cy="530" r="8.3" fill="url(#gOl)"/>
<circle cx="125" cy="530" r="8.3" fill="url(#gOg)"/>
<circle cx="86" cy="529" r="8" fill="url(#gOp)"/>
<circle cx="103.3" cy="530" r="8" fill="url(#gOp)"/>
<circle cx="75" cy="530" r="8.6" fill="url(#gC)"/>
<circle cx="95" cy="530" r="8.4" fill="url(#gC)"/>
<circle cx="112.5" cy="530" r="8.6" fill="url(#gC)"/>
<line x1="93.3" y1="518" x2="93.3" y2="545" stroke="#787878" stroke-width="2"/>
<circle cx="93.3" cy="520" r="1.8" fill="url(#gH)"/>
<path d="M126,516 Q95,510 62,517" fill="none" stroke="#222" stroke-width="0.8" marker-end="url(#ah)"/>
<!-- H2 -->
<circle cx="230" cy="524" r="5" fill="url(#gH)"/>
<circle cx="242" cy="521" r="5" fill="url(#gH)"/>
<circle cx="236" cy="529" r="5" fill="url(#gH)"/>
<circle cx="248" cy="527" r="4.6" fill="url(#gH)"/>
<circle cx="267" cy="523" r="5" fill="url(#gH)"/>
<circle cx="267" cy="533" r="5" fill="url(#gH)"/>
<path d="M268,517 Q248,513 226,517" fill="none" stroke="#222" stroke-width="0.8" marker-end="url(#ah)"/>
<!-- atom legend -->
<circle cx="31.7" cy="621.7" r="5.3" fill="url(#gCu)"/>
<circle cx="49.3" cy="621.7" r="5.3" fill="url(#gSi)"/>
<circle cx="65" cy="621.7" r="5.3" fill="url(#gF)"/>
<circle cx="79" cy="621.7" r="5.3" fill="url(#gOg)"/>
<circle cx="95" cy="621.7" r="5.3" fill="url(#gOp)"/>
<circle cx="111.7" cy="621.7" r="5.3" fill="url(#gOl)"/>
<circle cx="127.7" cy="621.7" r="5.3" fill="url(#gN)"/>
<circle cx="141.7" cy="621.7" r="5.3" fill="url(#gC)"/>
<circle cx="156.7" cy="621.7" r="5.3" fill="url(#gH)"/>
<g font-size="5.5" text-anchor="middle">
<text x="31.7" y="636.5">Cu</text><text x="49.3" y="636.5">Si</text><text x="65" y="636.5">F</text><text x="79" y="636.5">O</text>
<text x="95" y="636.5">O</text><text x="111.7" y="636.5">O</text><text x="127.7" y="636.5">N</text><text x="141.7" y="636.5">C</text><text x="156.7" y="636.5">H</text>
</g>
<!-- iso panels -->
<g clip-path="url(#cI1)"><use href="#iso"/></g>
<g clip-path="url(#cI2)"><use href="#iso" x="119.4"/></g>
<circle cx="406" cy="524.3" r="19.5" fill="url(#gRed)"/>
<circle cx="406" cy="523" r="3.2" fill="#c81212"/>
<circle cx="530" cy="524.3" r="16.5" fill="url(#gGreen)"/>
<circle cx="385" cy="628.3" r="7.3" fill="url(#gRed)"/>
<circle cx="490.7" cy="628.3" r="7" fill="url(#gGreen)"/>
<text x="403" y="632" font-size="9.5">CO<tspan font-size="6.5" dy="2">2</tspan></text>
<text x="512" y="632" font-size="9.5">H<tspan font-size="6.5" dy="2">2</tspan></text>
</svg>
</body></html>
